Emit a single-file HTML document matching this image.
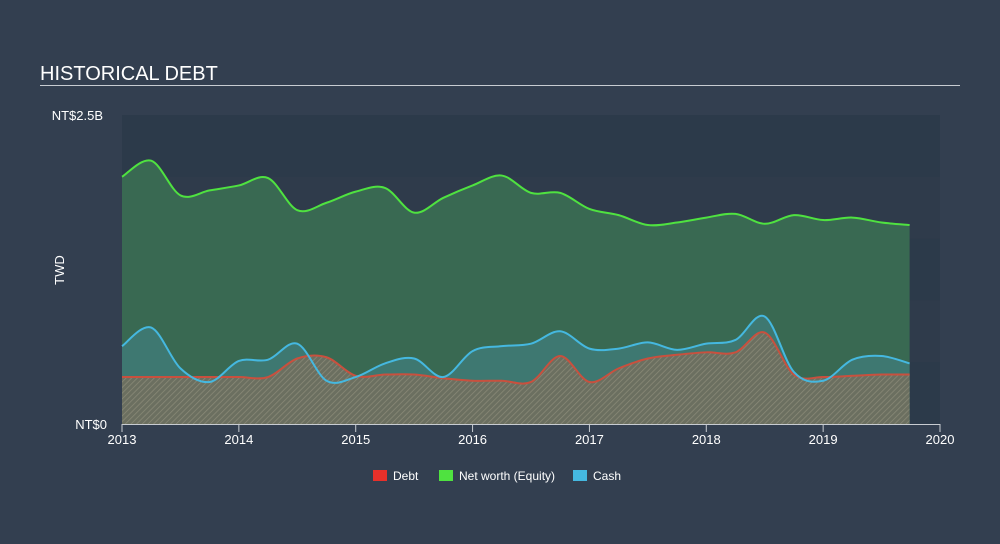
<!DOCTYPE html>
<html><head><meta charset="utf-8"><style>
body{margin:0;background:#333f50;font-family:"Liberation Sans",sans-serif;}
svg{display:block}
</style></head><body>
<svg width="1000" height="544">
<defs>
<pattern id="hatch" width="4" height="4" patternUnits="userSpaceOnUse" patternTransform="rotate(45)">
<rect width="4" height="4" fill="#6b6f60"/><line x1="0" y1="0" x2="0" y2="4" stroke="#8a8a78" stroke-width="1.5"/>
</pattern>
</defs>
<rect width="1000" height="544" fill="#333f50"/>
<text x="40" y="80" fill="#fff" font-size="20">HISTORICAL DEBT</text>
<rect x="40" y="85" width="920" height="1" fill="#c8ccd2"/>
<g id="bands"></g>
<g id="plot"></g>
<g id="axes"></g>
<text x="103" y="120" fill="#fff" font-size="13" text-anchor="end">NT$2.5B</text>
<text x="107" y="429" fill="#fff" font-size="13" text-anchor="end">NT$0</text>
<text x="64" y="270" fill="#fff" font-size="13" text-anchor="middle" transform="rotate(-90 64 270)">TWD</text>
<g>
<g><rect x="373" y="470" width="14" height="11" fill="#e8302a"/><text x="393" y="480" fill="#fff" font-size="12">Debt</text></g>
<g><rect x="439" y="470" width="14" height="11" fill="#4fe240"/><text x="459" y="480" fill="#fff" font-size="12">Net worth (Equity)</text></g>
<g><rect x="573" y="470" width="14" height="11" fill="#45b8e0"/><text x="593" y="480" fill="#fff" font-size="12">Cash</text></g>
</g>
</svg>
<script>
const dates=[2013,2013.25,2013.5,2013.75,2014,2014.25,2014.5,2014.75,2015,2015.25,2015.5,2015.75,2016,2016.25,2016.5,2016.75,2017,2017.25,2017.5,2017.75,2018,2018.25,2018.5,2018.75,2019,2019.25,2019.5,2019.74];
const equity=[2.00,2.13,1.85,1.89,1.93,1.99,1.73,1.79,1.88,1.91,1.71,1.83,1.93,2.01,1.87,1.87,1.74,1.69,1.61,1.63,1.67,1.70,1.62,1.69,1.65,1.67,1.63,1.61];
const cash=[0.63,0.78,0.45,0.34,0.51,0.52,0.65,0.35,0.38,0.49,0.53,0.38,0.59,0.63,0.65,0.75,0.61,0.61,0.66,0.60,0.65,0.68,0.87,0.42,0.35,0.52,0.55,0.49];
const debt=[0.38,0.38,0.38,0.38,0.38,0.38,0.53,0.54,0.39,0.40,0.40,0.37,0.35,0.35,0.34,0.55,0.34,0.45,0.53,0.56,0.58,0.58,0.74,0.40,0.38,0.39,0.40,0.40];
const xTicks=[2013,2014,2015,2016,2017,2018,2019,2020];
const yMax=2.5;
const X0=122,X1=940,Y0=424,Y1=115;
const sx=d=>X0+(d-2013)/7*(X1-X0);
const sy=v=>Y0-v/yMax*(Y0-Y1);
const NS="http://www.w3.org/2000/svg";
function mk(tag,attrs,parent){const e=document.createElementNS(NS,tag);for(const k in attrs)e.setAttribute(k,attrs[k]);parent.appendChild(e);return e;}
function curve(vals){const p=vals.map((v,i)=>[sx(dates[i]),sy(v)]);let d=`M${p[0][0]},${p[0][1]}`;
for(let i=0;i<p.length-1;i++){const a=p[i-1]||p[i],b=p[i],c=p[i+1],e=p[i+2]||c;
d+=`C${b[0]+(c[0]-a[0])/6},${b[1]+(c[1]-a[1])/6} ${c[0]-(e[0]-b[0])/6},${c[1]-(e[1]-b[1])/6} ${c[0]},${c[1]}`;}return d;}
function area(vals){return curve(vals)+`L${sx(dates[dates.length-1])},${Y0}L${X0},${Y0}Z`;}
const bands=document.getElementById('bands');
for(let i=0;i<5;i++){const r=mk('rect',{x:X0,y:Y1+i*(Y0-Y1)/5,width:X1-X0,height:(Y0-Y1)/5,fill:i%2?'#2f3b4b':'#2c3a4a'},bands);

}
const plot=document.getElementById('plot');
let e;
e=mk('path',{d:area(equity),fill:'#3a6b52',opacity:0.95},plot);


e=mk('path',{d:area(cash),fill:'#3f7a74',opacity:0.9},plot);


e=mk('path',{d:area(debt),fill:'url(#hatch)'},plot);


e=mk('path',{d:curve(debt),fill:'none',stroke:'#c9503e','stroke-width':2},plot);


e=mk('path',{d:curve(cash),fill:'none',stroke:'#45b8e0','stroke-width':2},plot);


e=mk('path',{d:curve(equity),fill:'none',stroke:'#4fe240','stroke-width':2},plot);


const axes=document.getElementById('axes');
e=mk('line',{x1:X0,y1:Y0+0.5,x2:X1,y2:Y0+0.5,stroke:'#c8ccd2','stroke-width':1},axes);


xTicks.forEach(t=>{const x=sx(t);
let l=mk('line',{x1:x,y1:Y0,x2:x,y2:Y0+8,stroke:'#c8ccd2'},axes);


let tx=mk('text',{x:x,y:Y0+20,fill:'#fff','font-size':13,'text-anchor':'middle'},axes);tx.textContent=t;

});
</script>
</body></html>
